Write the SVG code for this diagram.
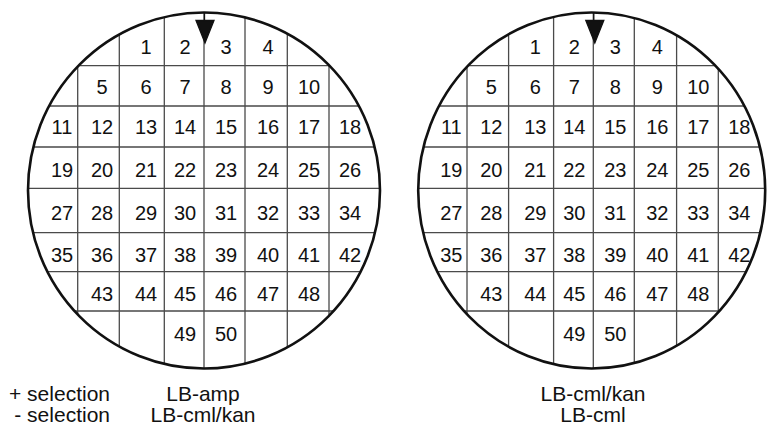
<svg xmlns="http://www.w3.org/2000/svg" width="769" height="427" viewBox="0 0 769 427">
<style>
.bg{fill:#ffffff}
.rim{fill:none;stroke:#111;stroke-width:2.6}
.grid{stroke:#4a4a4a;stroke-width:1.3;fill:none}
.n{font-family:"Liberation Sans",Arial,sans-serif;font-size:20px;fill:#111;text-anchor:middle}
.lbl{font-family:"Liberation Sans",Arial,sans-serif;font-size:21px;fill:#111}
.mark{fill:#111;stroke:#111;stroke-width:1.3}
</style>
<defs>
<clipPath id="clipL"><ellipse cx="204" cy="190.5" rx="176" ry="178"/></clipPath>
<clipPath id="clipR"><ellipse cx="202.4" cy="190.5" rx="173.5" ry="178"/></clipPath>
</defs>
<rect class="bg" x="0" y="0" width="769" height="427"/>

<g id="wafer-left">
  <g class="grid" clip-path="url(#clipL)">
    <path d="M77.7 0V427M119.3 0V427M164.3 0V427M204 0V427M245 0V427M287.3 0V427M329 0V427"/>
    <path d="M0 65.7H769M0 106H769M0 147H769M0 188.4H769M0 232.7H769M0 271.7H769M0 311H769"/>
  </g>
  <ellipse class="rim" cx="204" cy="190.5" rx="176" ry="178"/>
  <path class="mark" d="M204.5 12V21"/>
  <polygon class="mark" points="196,20.5 214,20.5 205,43"/>
  <g id="numbers-left">
    <text class="n" x="146" y="53.5">1</text><text class="n" x="185" y="53.5">2</text><text class="n" x="226" y="53.5">3</text><text class="n" x="268" y="53.5">4</text>
    <text class="n" x="102" y="93.5">5</text><text class="n" x="146" y="93.5">6</text><text class="n" x="185" y="93.5">7</text><text class="n" x="226" y="93.5">8</text><text class="n" x="268" y="93.5">9</text><text class="n" x="309" y="93.5">10</text>
    <text class="n" x="62" y="134">11</text><text class="n" x="102" y="134">12</text><text class="n" x="146" y="134">13</text><text class="n" x="185" y="134">14</text><text class="n" x="226" y="134">15</text><text class="n" x="268" y="134">16</text><text class="n" x="309" y="134">17</text><text class="n" x="350" y="134">18</text>
    <text class="n" x="62" y="177">19</text><text class="n" x="102" y="177">20</text><text class="n" x="146" y="177">21</text><text class="n" x="185" y="177">22</text><text class="n" x="226" y="177">23</text><text class="n" x="268" y="177">24</text><text class="n" x="309" y="177">25</text><text class="n" x="350" y="177">26</text>
    <text class="n" x="62" y="219.5">27</text><text class="n" x="102" y="219.5">28</text><text class="n" x="146" y="219.5">29</text><text class="n" x="185" y="219.5">30</text><text class="n" x="226" y="219.5">31</text><text class="n" x="268" y="219.5">32</text><text class="n" x="309" y="219.5">33</text><text class="n" x="350" y="219.5">34</text>
    <text class="n" x="62" y="262">35</text><text class="n" x="102" y="262">36</text><text class="n" x="146" y="262">37</text><text class="n" x="185" y="262">38</text><text class="n" x="226" y="262">39</text><text class="n" x="268" y="262">40</text><text class="n" x="309" y="262">41</text><text class="n" x="350" y="262">42</text>
    <text class="n" x="102" y="300.5">43</text><text class="n" x="146" y="300.5">44</text><text class="n" x="185" y="300.5">45</text><text class="n" x="226" y="300.5">46</text><text class="n" x="268" y="300.5">47</text><text class="n" x="309" y="300.5">48</text>
    <text class="n" x="185" y="341">49</text><text class="n" x="226" y="341">50</text>
  </g>
</g>

<g id="wafer-right" transform="translate(389.3,0)">
  <g class="grid" clip-path="url(#clipR)">
    <path d="M77.7 0V427M119.3 0V427M164.3 0V427M204 0V427M245 0V427M287.3 0V427M329 0V427"/>
    <path d="M0 65.7H769M0 106H769M0 147H769M0 188.4H769M0 232.7H769M0 271.7H769M0 311H769"/>
  </g>
  <ellipse class="rim" cx="202.4" cy="190.5" rx="173.5" ry="178"/>
  <path class="mark" d="M204.5 12V21"/>
  <polygon class="mark" points="196.5,20.5 214.5,20.5 205.5,43"/>
  <g id="numbers-right">
    <text class="n" x="146" y="53.5">1</text><text class="n" x="185" y="53.5">2</text><text class="n" x="226" y="53.5">3</text><text class="n" x="268" y="53.5">4</text>
    <text class="n" x="102" y="93.5">5</text><text class="n" x="146" y="93.5">6</text><text class="n" x="185" y="93.5">7</text><text class="n" x="226" y="93.5">8</text><text class="n" x="268" y="93.5">9</text><text class="n" x="309" y="93.5">10</text>
    <text class="n" x="62" y="134">11</text><text class="n" x="102" y="134">12</text><text class="n" x="146" y="134">13</text><text class="n" x="185" y="134">14</text><text class="n" x="226" y="134">15</text><text class="n" x="268" y="134">16</text><text class="n" x="309" y="134">17</text><text class="n" x="350" y="134">18</text>
    <text class="n" x="62" y="177">19</text><text class="n" x="102" y="177">20</text><text class="n" x="146" y="177">21</text><text class="n" x="185" y="177">22</text><text class="n" x="226" y="177">23</text><text class="n" x="268" y="177">24</text><text class="n" x="309" y="177">25</text><text class="n" x="350" y="177">26</text>
    <text class="n" x="62" y="219.5">27</text><text class="n" x="102" y="219.5">28</text><text class="n" x="146" y="219.5">29</text><text class="n" x="185" y="219.5">30</text><text class="n" x="226" y="219.5">31</text><text class="n" x="268" y="219.5">32</text><text class="n" x="309" y="219.5">33</text><text class="n" x="350" y="219.5">34</text>
    <text class="n" x="62" y="262">35</text><text class="n" x="102" y="262">36</text><text class="n" x="146" y="262">37</text><text class="n" x="185" y="262">38</text><text class="n" x="226" y="262">39</text><text class="n" x="268" y="262">40</text><text class="n" x="309" y="262">41</text><text class="n" x="350" y="262">42</text>
    <text class="n" x="102" y="300.5">43</text><text class="n" x="146" y="300.5">44</text><text class="n" x="185" y="300.5">45</text><text class="n" x="226" y="300.5">46</text><text class="n" x="268" y="300.5">47</text><text class="n" x="309" y="300.5">48</text>
    <text class="n" x="185" y="341">49</text><text class="n" x="226" y="341">50</text>
  </g>
</g>

<g id="labels">
  <text class="lbl" x="110" y="400.5" text-anchor="end">+ selection</text>
  <text class="lbl" x="110" y="422" text-anchor="end">- selection</text>
  <text class="lbl" x="203" y="400.5" text-anchor="middle">LB-amp</text>
  <text class="lbl" x="203" y="422" text-anchor="middle">LB-cml/kan</text>
  <text class="lbl" x="593" y="400.5" text-anchor="middle">LB-cml/kan</text>
  <text class="lbl" x="593" y="422" text-anchor="middle">LB-cml</text>
</g>
</svg>
